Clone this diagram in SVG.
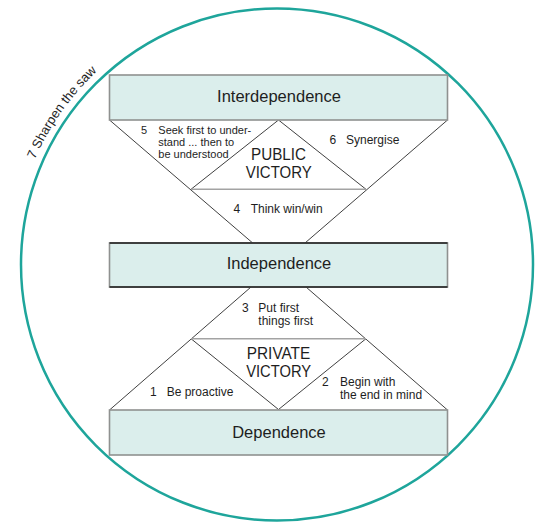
<svg xmlns="http://www.w3.org/2000/svg" width="550" height="532" viewBox="0 0 550 532">
<style>
  text { font-family: "Liberation Sans", Arial, Helvetica, sans-serif; fill: #1e1e1e; }
  .box { fill: #dbeeec; stroke: #8f9190; stroke-width: 1.6; }
  .dark { stroke: #1e1e1e; stroke-width: 1.6; }
  .title { font-size: 16.5px; text-anchor: middle; }
  .victory { font-size: 16px; text-anchor: middle; }
  .lbl { font-size: 12px; }
  .sm { font-size: 11px; }
  .thin { stroke: #2a2a2a; stroke-width: 0.9; fill: none; }
  .base { stroke: #a3a3a3; stroke-width: 1.6; fill: none; }
  .ring { fill: none; stroke: #1ea59b; stroke-width: 2.5; }
</style>
<defs>
  <path id="sawArc" d="M22,196.2 A264,264 0 0 1 186.7,16.4"/>
</defs>

<g id="sharpen-the-saw">
  <circle class="ring" cx="277" cy="264.5" r="256"/>
  <text font-size="13"><textPath href="#sawArc" startOffset="39">7 Sharpen the saw</textPath></text>
</g>

<g id="connectors">
  <path class="thin" d="M109.5,120 L252.7,243 M447.5,120 L305,243"/>
  <path class="thin" d="M191,189.3 L278.5,120 L366,189.3"/>
  <path class="base" d="M191,189.3 H366"/>
  <path class="thin" d="M109.5,410 L251,287 M447.5,410 L306,287"/>
  <path class="thin" d="M191,338.7 L278.5,409.5 L366,338.7"/>
  <path class="base" d="M191,338.7 H366"/>
</g>

<g id="interdependence">
  <rect class="box" x="109.5" y="75" width="338" height="45"/>
  <text class="title" x="279" y="102">Interdependence</text>
</g>

<g id="independence">
  <rect class="box" x="109.5" y="243" width="338" height="44"/>
  <path class="dark" d="M109.5,243 H447.5 M109.5,287 H447.5"/>
  <text class="title" x="279" y="268.5">Independence</text>
</g>

<g id="dependence">
  <rect class="box" x="109.5" y="410" width="338" height="45"/>
  <text class="title" x="279" y="437.5">Dependence</text>
</g>

<g id="public-victory">
  <text class="victory" x="278.5" y="159.8" textLength="55" lengthAdjust="spacingAndGlyphs">PUBLIC</text>
  <text class="victory" x="278.7" y="177.5" textLength="66" lengthAdjust="spacingAndGlyphs">VICTORY</text>
</g>

<g id="private-victory">
  <text class="victory" x="278.5" y="359.2" textLength="63.5" lengthAdjust="spacingAndGlyphs">PRIVATE</text>
  <text class="victory" x="278.7" y="377.2" textLength="65" lengthAdjust="spacingAndGlyphs">VICTORY</text>
</g>

<g id="habit-5">
  <text class="sm" x="141" y="133.5">5</text>
  <text class="sm" x="158.3" y="133.5">Seek first to under-</text>
  <text class="sm" x="158.3" y="145.5">stand ... then to</text>
  <text class="sm" x="158.3" y="158">be understood</text>
</g>

<g id="habit-6">
  <text class="lbl" x="329.5" y="144">6</text>
  <text class="lbl" x="346" y="144">Synergise</text>
</g>

<g id="habit-4">
  <text class="lbl" x="233.5" y="212.7">4</text>
  <text class="lbl" x="250.7" y="212.7">Think win/win</text>
</g>

<g id="habit-3">
  <text class="lbl" x="242" y="311.7">3</text>
  <text class="lbl" x="258.3" y="311.7">Put first</text>
  <text class="lbl" x="258.3" y="324.5">things first</text>
</g>

<g id="habit-1">
  <text class="lbl" x="150" y="396">1</text>
  <text class="lbl" x="166.7" y="396">Be proactive</text>
</g>

<g id="habit-2">
  <text class="lbl" x="322" y="386">2</text>
  <text class="lbl" x="340" y="386">Begin with</text>
  <text class="lbl" x="340" y="399">the end in mind</text>
</g>
</svg>
